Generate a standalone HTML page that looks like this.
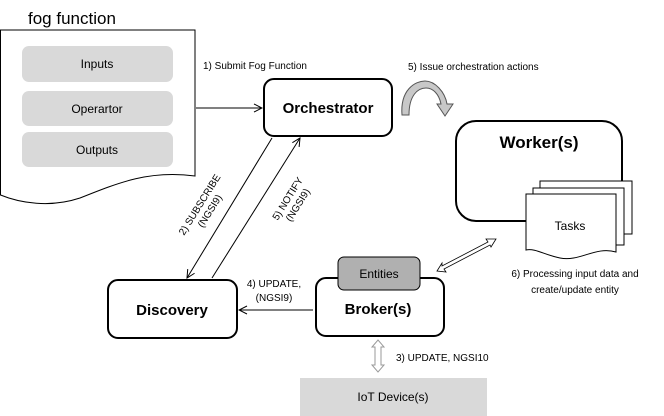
<!DOCTYPE html>
<html><head><style>
body{margin:0;background:#fff;}
svg{display:block;}
text{font-family:"Liberation Sans",sans-serif;}
</style></head><body>
<svg width="664" height="416" viewBox="0 0 664 416" xmlns="http://www.w3.org/2000/svg">
<defs>
<marker id="a" markerWidth="10" markerHeight="10" refX="9" refY="5" orient="auto" markerUnits="userSpaceOnUse">
<path d="M1,1 L9,5 L1,9" fill="none" stroke="#000" stroke-width="1"/>
</marker>
</defs>
<text x="28" y="24" font-size="17">fog function</text>
<path d="M0.5,30 L195,30 L195,176 C150,170 120,182 80,198 C50,208 20,203 0.5,195 Z" fill="#fff" stroke="#000" stroke-width="1"/>
<rect x="22" y="46" width="151" height="36" rx="7" fill="#d9d9d9"/>
<rect x="22" y="91" width="151" height="35" rx="7" fill="#d9d9d9"/>
<rect x="22" y="132" width="151" height="35" rx="7" fill="#d9d9d9"/>
<text x="97" y="68" font-size="12" text-anchor="middle">Inputs</text>
<text x="97" y="113" font-size="12" text-anchor="middle">Operartor</text>
<text x="97" y="154" font-size="12" text-anchor="middle">Outputs</text>
<text x="203" y="69" font-size="10">1)  Submit Fog Function</text>
<line x1="196" y1="108" x2="262" y2="108" stroke="#000" marker-end="url(#a)"/>
<rect x="264" y="79" width="128" height="57" rx="10" fill="#fff" stroke="#000" stroke-width="2"/>
<text x="328" y="113" font-size="15" font-weight="bold" text-anchor="middle">Orchestrator</text>
<text x="408" y="70" font-size="10">5) Issue orchestration actions</text>
<path d="M402,115 C400,90 415,81 425,81 C435,81 445,92 447,104 L453,104 L445,116 L437,104 L441,104 C439,94 433,88 426,88 C418,88 409,95 409,115 Z" fill="#c8c8c8" stroke="#555" stroke-width="1"/>
<rect x="456" y="121" width="166" height="100" rx="20" fill="#fff" stroke="#000" stroke-width="2"/>
<text x="539" y="148" font-size="17" font-weight="bold" text-anchor="middle">Worker(s)</text>
<path d="M540,181 L632,181 L632,234 L540,234 Z" fill="#fff" stroke="#000"/>
<path d="M533,188 L624,188 L624,245 L533,245 Z" fill="#fff" stroke="#000"/>
<path d="M526,194 L616,194 L616,252 C595,246 580,262 560,258 C545,255 535,248 526,250 Z" fill="#fff" stroke="#000"/>
<text x="570" y="230" font-size="12" text-anchor="middle">Tasks</text>
<text x="575" y="277" font-size="10" text-anchor="middle">6) Processing input data and</text>
<text x="575" y="293" font-size="10" text-anchor="middle">create/update entity</text>
<path d="M437,271 L442,263 L442,266 L488,242 L486,239 L496,239 L491,247 L490,245 L444,269 L446,272 Z" fill="#fff" stroke="#000" stroke-width="0.8"/>
<rect x="316" y="278" width="128" height="58" rx="10" fill="#fff" stroke="#000" stroke-width="2"/>
<rect x="338" y="257" width="82" height="33" rx="6" fill="#b0b0b0" stroke="#000" stroke-width="1"/>
<text x="379" y="278" font-size="12" text-anchor="middle">Entities</text>
<text x="378" y="314" font-size="15" font-weight="bold" text-anchor="middle">Broker(s)</text>
<rect x="108" y="280" width="129" height="58" rx="10" fill="#fff" stroke="#000" stroke-width="2"/>
<text x="172" y="315" font-size="15" font-weight="bold" text-anchor="middle">Discovery</text>
<line x1="313" y1="310" x2="239" y2="310" stroke="#000" marker-end="url(#a)"/>
<text x="274" y="287" font-size="10" text-anchor="middle">4) UPDATE,</text>
<text x="274" y="301" font-size="10" text-anchor="middle">(NGSI9)</text>
<line x1="272" y1="138" x2="187" y2="278" stroke="#000" marker-end="url(#a)"/>
<line x1="212" y1="278" x2="300" y2="138" stroke="#000" marker-end="url(#a)"/>
<g transform="translate(205,208) rotate(-58)"><text x="0" y="-3" font-size="10" text-anchor="middle">2) SUBSCRIBE</text><text x="0" y="9" font-size="10" text-anchor="middle">(NGSI9)</text></g>
<g transform="translate(293,202) rotate(-58)"><text x="0" y="-3" font-size="10" text-anchor="middle">5) NOTIFY</text><text x="0" y="9" font-size="10" text-anchor="middle">(NGSI9)</text></g>
<path d="M378,340 L384,347 L381,347 L381,365 L384,365 L378,372 L372,365 L375,365 L375,347 L372,347 Z" fill="#fff" stroke="#999" stroke-width="1"/>
<text x="396" y="361" font-size="10">3) UPDATE, NGSI10</text>
<rect x="300" y="378" width="187" height="38" fill="#d9d9d9"/>
<text x="393" y="401" font-size="12" text-anchor="middle">IoT Device(s)</text>
</svg>
</body></html>
